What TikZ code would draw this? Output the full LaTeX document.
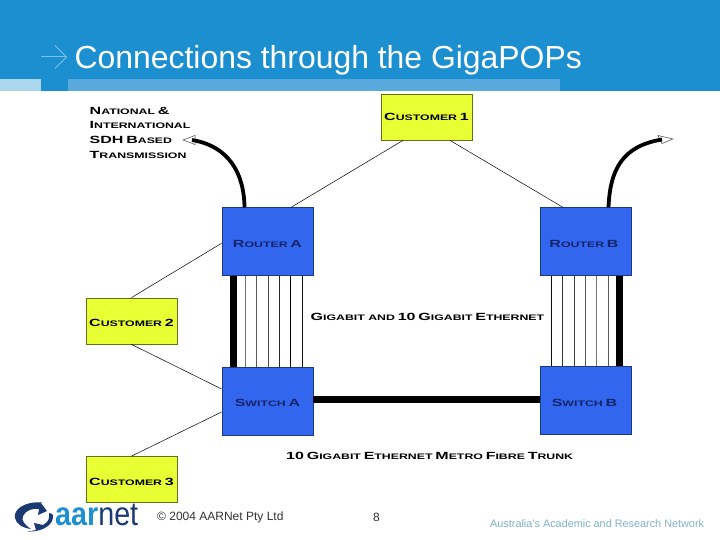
\documentclass[tikz,border=0pt]{standalone}
\usepackage{fontspec}
\setmainfont{Liberation Sans}
\newfontfamily\capsfont[FakeStretch=1.54]{Liberation Sans Bold}
\newfontfamily\logofont[FakeStretch=.87]{Liberation Sans}
\usetikzlibrary{calc}
\definecolor{headblue}{HTML}{1B8FD0}
\definecolor{stripblue}{HTML}{5AA9DC}
\definecolor{striplight}{HTML}{AAD6EE}
\definecolor{arrowblue}{HTML}{7CC0EC}
\definecolor{devblue}{HTML}{3366EE}
\definecolor{devedge}{HTML}{1A3A80}
\definecolor{custyellow}{HTML}{E8FF33}
\definecolor{custedge}{HTML}{66701A}
\definecolor{devtext}{HTML}{14246A}
\definecolor{logonavy}{HTML}{1C3A72}
\definecolor{logoblue}{HTML}{1E8FCF}
\definecolor{tagline}{HTML}{7FB2C8}
\newcommand{\Bg}[1]{{\fontsize{10.4}{12}\capsfont #1}}
\newcommand{\Sm}[1]{{\fontsize{8}{12}\capsfont #1}}
\newcommand{\Lw}[2]{\raisebox{#1}[0pt][0pt]{#2}}
\tikzset{
  x=1pt,y=-1pt,
  device/.style={draw=devedge,line width=0.8pt,fill=devblue,minimum width=91pt,minimum height=68pt,inner sep=0pt,text=devtext},
  customer/.style={draw=custedge,line width=0.8pt,fill=custyellow,minimum width=91pt,minimum height=46pt,inner sep=0pt,text=black},
  thinlink/.style={draw=black,line width=0.5pt},
  fatlink/.style={draw=black,line width=7pt},
  curvelink/.style={draw=black,line width=3.8pt},
  openhead/.style={draw=black!75,line width=0.5pt,fill=white},
  lbl/.style={inner sep=0pt,anchor=west,text=black},
}
\begin{document}
\begin{tikzpicture}
\useasboundingbox (0,0) rectangle (720,540);
\fill[white] (0,0) rectangle (720,540);
% header
\fill[headblue] (0,0) rectangle (720,91);
\fill[striplight] (0,79) rectangle (40.5,91);
\fill[stripblue] (68,79) rectangle (560,91);
\draw[arrowblue,line width=1pt] (41,57) -- (66,57);
\draw[arrowblue,line width=1pt] (55,45.5) -- (66.5,57) -- (55,68.5);
\node[lbl,text=white,font=\fontsize{31.9}{36}\selectfont] (title) at (74.5,60.5) {Connections through the GigaPOPs};
% devices
\node[customer] (c1) at (426.5,117) {\Lw{-4pt}{\Bg{C}\Sm{USTOMER} \Bg{1}}};
\node[customer] (c2) at (131.5,321) {\Lw{-5.5pt}{\Bg{C}\Sm{USTOMER} \Bg{2}}};
\node[customer] (c3) at (131.5,479.5) {\Lw{-5.5pt}{\Bg{C}\Sm{USTOMER} \Bg{3}}};
\node[device] (ra) at (267.5,241.75) {\Lw{-6pt}{\Bg{R}\Sm{OUTER} \Bg{A}}};
\node[device] (sa) at (267.5,401) {\Lw{-5pt}{\Bg{S}\Sm{WITCH} \Bg{A}}};
\node[device] (rb) at (584,241.75) [minimum width=91pt,xshift=1.5pt] {\Lw{-5.5pt}{\kern-3pt\Bg{R}\Sm{OUTER} \Bg{B}}};
\node[device] (sb) at (584,400.5) [xshift=1.5pt] {\Lw{-5.5pt}{\kern-2pt\Bg{S}\Sm{WITCH} \Bg{B}}};
% links A
\foreach \dx/\g in {-22.5/55,-11/65,0.5/70,12/85,23/100,34.5/95}{
  \draw[line width=0.7pt,black!\g] ($(ra.south)+(\dx,0)$) -- ($(sa.north)+(\dx,0)$);
}
\draw[fatlink] ($(ra.south)+(-34,0)$) -- ($(sa.north)+(-34,0)$);
% links B
\foreach \dx/\g in {-34.5/95,-23.5/80,-11.5/75,-0.5/65,10.5/55,22.5/65}{
  \draw[line width=0.7pt,black!\g] ($(rb.south)+(\dx,0)$) -- ($(sb.north)+(\dx,0)$);
}
\draw[fatlink] ($(rb.south)+(33.5,0)$) -- ($(sb.north)+(33.5,0)$);
\draw[fatlink] ($(sa.east)+(0,-1.5)$) -- ($(sb.west)+(0,-1)$);
% customer links
\draw[thinlink] ($(c1.south)+(-23.5,0)$) -- ($(ra.north)+(23.5,0)$);
\draw[thinlink] ($(c1.south)+(23.5,0)$) -- ($(rb.north)+(-22.5,0)$);
\draw[thinlink] (c2.north) -- ($(ra.west)+(0,1.5)$);
\draw[thinlink] (c2.south) -- ($(sa.west)+(0,-12)$);
\draw[thinlink] (c3.north) -- ($(sa.west)+(0,11)$);
% transmission
\coordinate (tl) at (183,140);
\coordinate (tr) at (673,139);
\draw[openhead] (tl) -- (195,135.5) -- (195,144.5) -- cycle;
\draw[openhead] (tr) -- (658,135.5) -- (662,143.5) -- cycle;
\draw[curvelink] ($(ra.north)+(-23,0)$) .. controls (244,172) and (228,146) .. (192,140);
\draw[curvelink] ($(rb.north)+(23,0)$) .. controls (610,170) and (622,146) .. (662,139.5);
\node[lbl] (n1) at (89.5,110.5) {\Bg{N}\Sm{ATIONAL} \Bg{\&}};
\node[lbl] (n2) at (89.5,125) {\Bg{I}\Sm{NTERNATIONAL}};
\node[lbl] (n3) at (89.5,140) {\Bg{SDH} \Bg{B}\Sm{ASED}};
\node[lbl] (n4) at (89.5,154.5) {\Bg{T}\Sm{RANSMISSION}};
\node[lbl] (g1) at (310.5,317) {\Bg{G}\Sm{IGABIT AND} \Bg{10} \Bg{G}\Sm{IGABIT} \Bg{E}\Sm{THERNET}};
\node[lbl] (g2) at (286,456) {\Bg{10} \Bg{G}\Sm{IGABIT} \Bg{E}\Sm{THERNET} \Bg{M}\Sm{ETRO} \Bg{F}\Sm{IBRE} \Bg{T}\Sm{RUNK}};
% footer
\node[lbl,text=black!80,font=\fontsize{12}{14}\selectfont] (copy) at (157,517.5) {© 2004 AARNet Pty Ltd};
\node[lbl,text=black!80,font=\fontsize{12}{14}\selectfont] (page) at (373,517.5) {8};
\node[lbl,text=tagline,font=\fontsize{10.85}{12}\selectfont] (tag) at (490,524) {Australia's Academic and Research Network};
% logo swirl
\fill[logonavy] (42,502.5) .. controls (24,501) and (13,510) .. (15,518)
  .. controls (16,524) and (23,528) .. (31,529)
  .. controls (25,525) and (21,521) .. (23,516)
  .. controls (26,510) and (33,508) .. (39,509) -- (38,515) -- (47,511) -- (41,503) -- cycle;
\fill[logonavy] (53,515) .. controls (54,524) and (44,532) .. (28,531.5)
  -- (36,530) -- (34,523) -- (43,525) .. controls (48,522) and (50,519) .. (49,513)
  .. controls (51,513) and (52,514) .. (53,515) -- cycle;
\node[inner sep=0pt,anchor=base west,font=\fontsize{33}{34}\logofont] (logo) at (55,525) {\textcolor{logoblue}{\bfseries aar}\textcolor{logonavy}{net}};
\end{tikzpicture}
\end{document}
